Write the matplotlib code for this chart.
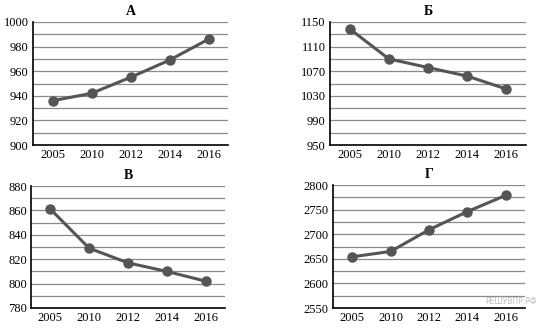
import matplotlib.pyplot as plt

years = ['2005', '2010', '2012', '2014', '2016']

values_a = [936, 942, 955, 969, 986]
values_b = [1139, 1090, 1076, 1062, 1041]
values_v = [861, 829, 817, 810, 802]
values_g = [2654, 2665, 2709, 2746, 2779]

titles = ['А', 'Б', 'В', 'Г']
# (ymin, ymax, шаг сетки, шаг подписей)
y_ranges = [(900, 1000, 10, 20), (950, 1150, 20, 40), (780, 880, 10, 20), (2550, 2800, 25, 50)]

plt.rcParams['font.family'] = ['Liberation Serif', 'DejaVu Serif']

W, H = 540, 329
fig = plt.figure(figsize=(W / 100, H / 100), dpi=100)

# положения осей в пикселях: left, top, right, bottom
boxes = [(33, 22, 228, 145), (330, 22, 526, 145), (31, 186, 225, 308), (333, 185, 525, 308)]

for vals, title, (lo, hi, step, lstep), (l, t, r, b) in zip(
        [values_a, values_b, values_v, values_g], titles, y_ranges, boxes):
    ax = fig.add_axes([l / W, 1 - b / H, (r - l) / W, (b - t) / H])
    x = range(len(years))
    ax.set_xlim(-0.5, len(years) - 0.5)
    ax.set_ylim(lo, hi)
    for yv in range(lo + step, hi + 1, step):
        ax.axhline(yv, color='#8a8a8a', lw=0.9, zorder=1)
    ax.plot(x, vals, color='#555555', lw=2.2, marker='o', markersize=6.5, zorder=3)
    ax.set_xticks(list(x))
    ax.set_xticklabels(years)
    ax.set_yticks(range(lo, hi + 1, lstep))
    ax.tick_params(axis='both', labelsize=9, length=0, pad=3)
    for s in ['top', 'right']:
        ax.spines[s].set_visible(False)
    ax.spines['left'].set_linewidth(1.2)
    ax.spines['bottom'].set_linewidth(1.2)
    ax.set_title(title, fontsize=10, fontweight='bold', pad=5)

fig.text(537 / W, 1 - 302 / H, 'РЕШУВПР.РФ', fontsize=5.5, color='#bbbbbb',
         ha='right', va='center', family=['DejaVu Sans'])

fig.savefig('out.png', dpi=100)
